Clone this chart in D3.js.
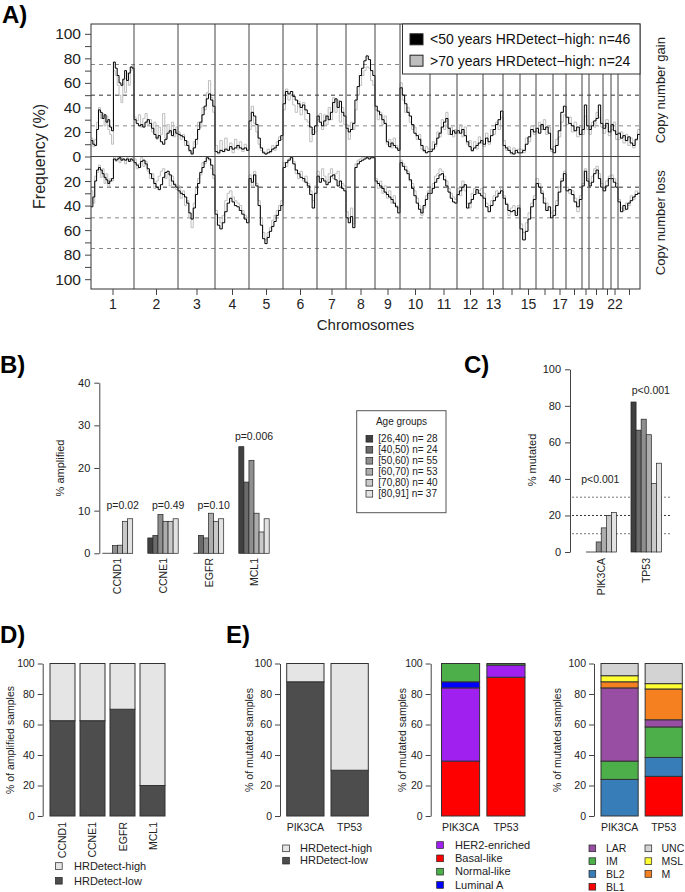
<!DOCTYPE html>
<html>
<head>
<meta charset="utf-8">
<script src="https://cdn.jsdelivr.net/npm/d3@7"></script>
<style>
  body { margin: 0; background: #fff; }
  svg { display: block; font-family: "Liberation Sans", Arial, Helvetica, sans-serif; }
</style>
</head>
<body>
<svg id="fig" width="685" height="892"></svg>
<script>
// Data
// ----

// Panel A: copy number frequency (%) along the genome, one array per chromosome
const chromNames = ["1","2","3","4","5","6","7","8","9","10","11","12","13","14","15","16","17","18","19","20","21","22","X"];
const chromWidth = [43,44,37,34,34,34,29,29,25,30,27,26,20,17,16,17,13,16,7,14,8,7,22];
const chromLabelShown = ["1","2","3","4","5","6","7","8","9","10","11","12","13","15","17","19","22"];

const gainYoung = [
  [13,10,9,22,38,36,31,34,28,30,24,21,77,72,66,60,58,63,70,62,68,73,72],
  [30,27,25,26,24,28,30,27,23,18,15,17,12,10,14,19,21,17,22,19],
  [18,17,16,13,9,5,2,7,14,22,28,34,41,47,51,46,41],
  [4,3,5,4,6,5,8,6,7,9,7,6,7,5],
  [29,36,33,26,15,7,3,2,3,4,6,7,9,13,17],
  [43,53,51,53,49,46,43,40,42,38,35,24,18,25],
  [33,28,25,29,33,30,36,44,47,40,45,36,33],
  [23,20,22,27,46,57,66,72,78,82,79,70,66],
  [41,37,34,30,27,12,8,11,9,7,5],
  [56,50,43,36,33,26,19,17,14,9,5,3,4],
  [4,6,10,15,19,24,28,31,23,18,21,19],
  [21,19,22,17,12,8,5,7,9,11,13],
  [10,15,12,17,22,26,30,37],
  [9,7,5,3,2,5,3],
  [3,5,10,16,22,20],
  [23,19,26,22,24,19,6],
  [3,9,21,36,41],
  [32,27,25,21,24,18],
  [22,42,25],
  [22,25,29,31,42,27],
  [23,27,20],
  [26,21,18],
  [19,15,17,13,16,11,9,14,18]
];
const gainOld = [
  [15,8,14,28,40,31,35,25,33,22,18,10,70,66,58,50,44,62,52,68,58,70,74],
  [32,29,34,24,31,35,26,30,20,28,14,24,18,35,15,26,20,28,16,24],
  [20,14,18,9,12,4,3,12,10,28,24,40,38,52,62,48,36],
  [9,2,13,4,15,6,11,3,14,6,12,4,10,6],
  [22,41,27,20,10,5,4,2,6,3,9,5,12,16,14],
  [38,55,46,50,42,36,45,34,44,30,28,12,22,20],
  [30,35,22,34,26,40,30,48,36,46,28,40,26],
  [26,14,28,22,38,50,58,66,70,73,72,62,58],
  [38,30,36,26,33,10,14,7,15,9,6],
  [60,46,36,40,28,22,24,14,18,6,4,8,6],
  [6,12,8,20,16,30,22,36,18,24,16,22],
  [19,26,16,24,10,13,4,12,6,16,11],
  [8,19,10,22,18,28,22,32],
  [13,5,8,2,7,3,6],
  [6,3,15,12,25,18],
  [20,28,22,30,18,24,4],
  [8,14,16,28,34],
  [26,32,20,28,16,24],
  [18,33,22],
  [18,28,24,36,32,24],
  [19,30,17],
  [22,28,14],
  [14,20,11,18,9,15,7,13,22]
];
const lossYoung = [
  [41,33,20,11,9,11,14,17,19,22,20,18,2,3,2,1,3,2,3,2,4,2,3],
  [5,7,9,4,3,6,10,14,18,22,25,27,23,17,13,12,15,20,23,25],
  [28,30,31,33,38,46,51,42,31,22,13,9,4,1,2,7,15],
  [47,56,59,54,45,38,34,37,40,41,44,47,51,54],
  [18,21,15,24,40,56,67,71,66,61,57,53,48,44,40],
  [9,5,3,1,6,11,14,17,18,21,24,31,42,30],
  [16,21,18,20,23,21,16,15,19,24,20,26,28],
  [50,54,49,58,9,6,4,3,2,1,2,1,1],
  [20,22,24,26,29,31,33,35,38,41,46],
  [5,8,11,14,19,26,32,38,43,46,40,35,30],
  [30,26,21,18,15,14,19,24,29,34,37,38],
  [31,28,25,23,42,38,35,31,27,30,32],
  [34,41,45,40,36,33,30,28],
  [34,39,44,45,44,48,42],
  [59,68,61,51,41,35],
  [22,25,30,38,44,41,50],
  [48,40,29,20,14],
  [28,27,31,37,41,35],
  [24,12,20],
  [24,21,14,11,18,25],
  [28,24,18],
  [18,21,25],
  [37,45,40,43,38,36,33,31,30]
];
const lossOld = [
  [28,38,16,13,7,17,10,22,14,25,18,20,0,4,1,5,0,3,6,1,2,4,1],
  [2,10,6,1,8,4,12,18,14,26,20,16,12,10,18,14,24,16,22,27],
  [24,34,28,40,36,50,58,38,26,18,15,5,6,0,3,10,18],
  [44,50,54,48,36,30,28,33,36,38,40,44,48,50],
  [15,24,12,22,36,50,62,68,62,58,52,48,44,40,36],
  [5,8,2,0,4,14,18,12,20,16,22,28,36,24],
  [12,18,10,16,20,14,10,18,14,12,20,22,24],
  [45,50,42,55,6,3,2,1,1,0,1,0,1],
  [18,26,20,30,24,34,28,38,32,40,42],
  [3,6,8,12,20,22,28,34,40,48,42,32,28],
  [28,22,16,14,10,12,16,20,26,30,33,35],
  [26,32,20,28,38,42,30,26,30,28,26],
  [30,38,40,36,32,28,30,25],
  [32,38,48,42,40,46,40],
  [55,62,54,46,38,32],
  [18,22,28,34,38,44,46],
  [44,36,25,18,12],
  [25,30,28,34,45,32],
  [22,10,18],
  [22,16,10,8,14,22],
  [26,20,16],
  [15,18,22],
  [35,42,44,38,40,32,35,28,30]
];
const legendA = ["<50 years HRDetect\u2212high: n=46", ">70 years HRDetect\u2212high: n=24"];

// Panel B: % amplified by age group
const ampGenes = ["CCND1", "CCNE1", "EGFR", "MCL1"];
const ageGroups = ["[26,40)", "[40,50)", "[50,60)", "[60,70)", "[70,80)", "[80,91]"];
const ageN = [28, 24, 55, 53, 40, 37];
const ampPct = [
  [0, 0, 1.8, 1.9, 7.5, 8.1],
  [3.6, 4.2, 9.1, 7.5, 7.5, 8.1],
  [0, 4.2, 3.6, 9.4, 7.5, 8.1],
  [25, 16.7, 21.8, 9.4, 5, 8.1]
];
const ampP = ["p=0.02", "p=0.49", "p=0.10", "p=0.006"];

// Panel C: % mutated by age group
const mutGenes = ["PIK3CA", "TP53"];
const mutPct = [
  [0, 0, 5.5, 13.2, 20, 21.6],
  [82.1, 66.7, 72.7, 64.2, 37.5, 48.6]
];
const mutP = ["p<0.001", "p<0.001"];
const mutRefLines = [10, 20, 30];

// Panel D: HRDetect-low share of amplified samples
const hrdLowAmp = [62.5, 62.5, 70, 20];

// Panel E: mutated samples
const hrdLowMut = [88, 30];
const pam50Types = ["Basal-like", "HER2-enriched", "Luminal A", "Normal-like"];
const pam50PIK3CA = [36, 48, 4, 12];
const pam50TP53 = [91, 8, 0, 1];
const pam50Legend = ["HER2-enriched", "Basal-like", "Normal-like", "Luminal A"];
const tnbcTypes = ["BL1", "BL2", "IM", "LAR", "M", "MSL", "UNC"];
const tnbcPIK3CA = [0, 24, 12, 48, 4, 4, 8];
const tnbcTP53 = [26, 12.4, 20, 4.7, 20.2, 3.5, 13.2];
const tnbcLegendCols = [["LAR", "IM", "BL2", "BL1"], ["UNC", "MSL", "M"]];

const ageColors = ["#404040", "#6b6b6b", "#8f8f8f", "#adadad", "#c9c9c9", "#e2e2e2"];
const hrdColors = { high: "#e5e5e5", low: "#4d4d4d" };
const pam50Colors = { "Basal-like": "#ff0000", "HER2-enriched": "#a020f0", "Luminal A": "#0000ff", "Normal-like": "#4daf4a" };
const tnbcColors = { BL1: "#ff0000", BL2: "#377eb8", IM: "#4daf4a", LAR: "#984ea3", M: "#f58020", MSL: "#ffff33", UNC: "#d3d3d3" };


// Helpers
// -------

const svg = d3.select("#fig");
svg.append("rect").attr("width", 685).attr("height", 892).attr("fill", "#fff");

function styleAxis(g, fs) {
  g.attr("font-family", null).attr("font-size", null);
  g.selectAll("text").attr("font-size", fs).attr("fill", "#222");
  g.selectAll("line, path").attr("stroke", "#444");
}

function vText(x, y, txt, fs, anchor) {
  return svg.append("text")
    .attr("transform", `translate(${x},${y}) rotate(-90)`)
    .attr("text-anchor", anchor || "middle")
    .attr("dominant-baseline", "central")
    .attr("font-size", fs)
    .attr("fill", "#222")
    .text(txt);
}

function panelLabel(txt, x, y) {
  svg.append("text").attr("x", x).attr("y", y)
    .attr("font-size", 24).attr("font-weight", "bold").text(txt);
}

// grouped bars; zero values still show as a flat line like R's barplot
function groupedBars(g, vals, x0, sub, y, colors) {
  vals.forEach((d, i) => {
    const bx = x0 + sub(ageGroups[i]);
    if (d > 0) {
      g.append("rect").attr("x", bx).attr("y", y(d))
        .attr("width", sub.bandwidth()).attr("height", y(0) - y(d))
        .attr("fill", colors[i]).attr("stroke", "#222").attr("stroke-width", 0.7);
    } else {
      g.append("line").attr("x1", bx).attr("x2", bx + sub.bandwidth())
        .attr("y1", y(0)).attr("y2", y(0)).attr("stroke", "#222").attr("stroke-width", 0.8);
    }
  });
}

panelLabel("A)", 2, 23);
panelLabel("B)", 0, 373);
panelLabel("C)", 464, 373);
panelLabel("D)", 0, 643);
panelLabel("E)", 226, 643);


// Panel A
// -------

const A = { left: 91, right: 640, top: 24, bottom: 289, zero: 156.5 };
const genomeStart = [];
let acc = 0;
chromWidth.forEach(w => { genomeStart.push(acc); acc += w; });
const genomeTotal = acc;
const chromCenters = chromWidth.map((w, i) => genomeStart[i] + w / 2);

const xA = d3.scaleLinear().domain([0, genomeTotal]).range([A.left, A.right]);
const yGain = d3.scaleLinear().domain([0, 108]).range([A.zero, A.top]);
const yLoss = d3.scaleLinear().domain([0, 108]).range([A.zero, A.bottom]);

svg.append("clipPath").attr("id", "clipA").append("rect")
  .attr("x", A.left).attr("y", A.top).attr("width", A.right - A.left).attr("height", A.bottom - A.top);

const gA = svg.append("g");

// reference lines
[[yGain, [25, 50, 75], ["#8a8a8a", "#333", "#8a8a8a"]],
 [yLoss, [25, 50, 75], ["#333", "#8a8a8a", "#8a8a8a"]]].forEach(([y, vals, cols]) => {
  vals.forEach((v, i) => {
    gA.append("line")
      .attr("x1", A.left).attr("x2", A.right)
      .attr("y1", y(v)).attr("y2", y(v))
      .attr("stroke", cols[i]).attr("stroke-width", 1)
      .attr("stroke-dasharray", "4,4");
  });
});

function tracePoints(series) {
  const pts = [];
  series.forEach((vals, c) => {
    const step = chromWidth[c] / vals.length;
    vals.forEach((v, i) => pts.push([genomeStart[c] + i * step, v]));
  });
  const last = series[series.length - 1];
  pts.push([genomeTotal, last[last.length - 1]]);
  return pts;
}

const traces = gA.append("g").attr("clip-path", "url(#clipA)");
[[gainOld, yGain, "#bebebe", 1], [lossOld, yLoss, "#bebebe", 1],
 [gainYoung, yGain, "#000", 1], [lossYoung, yLoss, "#000", 1]].forEach(([s, y, col, w]) => {
  const line = d3.line().x(d => xA(d[0])).y(d => y(d[1])).curve(d3.curveStepAfter);
  traces.append("path").attr("d", line(tracePoints(s)))
    .attr("fill", "none").attr("stroke", col).attr("stroke-width", w);
});

// chromosome boundaries
gA.selectAll(".chrsep").data(genomeStart.slice(1)).join("line")
  .attr("x1", d => xA(d)).attr("x2", d => xA(d))
  .attr("y1", A.top).attr("y2", A.bottom)
  .attr("stroke", "#444").attr("stroke-width", 1);

gA.append("line").attr("x1", A.left).attr("x2", A.right)
  .attr("y1", A.zero).attr("y2", A.zero).attr("stroke", "#444");
gA.append("rect").attr("x", A.left).attr("y", A.top)
  .attr("width", A.right - A.left).attr("height", A.bottom - A.top)
  .attr("fill", "none").attr("stroke", "#333");

// axes
const fmt20 = d => (d % 20 === 0 ? d : "");
const axGain = gA.append("g").attr("transform", `translate(${A.left},0)`)
  .call(d3.axisLeft(yGain).tickValues(d3.range(0, 101, 10)).tickFormat(fmt20).tickSize(6).tickPadding(4));
const axLoss = gA.append("g").attr("transform", `translate(${A.left},0)`)
  .call(d3.axisLeft(yLoss).tickValues(d3.range(10, 101, 10)).tickFormat(fmt20).tickSize(6).tickPadding(4));
[axGain, axLoss].forEach(g => { g.select(".domain").remove(); styleAxis(g, 15.5); });

const axChr = gA.append("g").attr("transform", `translate(0,${A.bottom})`)
  .call(d3.axisBottom(xA).tickValues(chromCenters)
    .tickFormat((d, i) => chromLabelShown.includes(chromNames[i]) ? chromNames[i] : "")
    .tickSize(6).tickPadding(4));
axChr.select(".domain").remove();
styleAxis(axChr, 14);

svg.append("text").attr("x", (A.left + A.right) / 2).attr("y", 330)
  .attr("text-anchor", "middle").attr("font-size", 15).attr("fill", "#222").text("Chromosomes");
vText(39, A.zero, "Frequency (%)", 16);
vText(660, (A.top + A.zero) / 2, "Copy number gain", 13);
vText(660, (A.zero + A.bottom) / 2, "Copy number loss", 13);

// legend
const legA = svg.append("g");
legA.append("rect").attr("x", 402.5).attr("y", A.top).attr("width", A.right - 402.5).attr("height", 50)
  .attr("fill", "#fff").attr("stroke", "#333");
legendA.forEach((t, i) => {
  const cy = 39.3 + i * 21.4;
  legA.append("rect").attr("x", 410).attr("y", cy - 5.5).attr("width", 13).attr("height", 11)
    .attr("fill", i === 0 ? "#000" : "#bebebe").attr("stroke", "#222");
  legA.append("text").attr("x", 430).attr("y", cy + 5).attr("font-size", 14).attr("fill", "#111").text(t);
});


// Panel B
// -------

const yB = d3.scaleLinear().domain([0, 40]).range([553.3, 382.7]);
const xB = d3.scaleBand().domain(ampGenes).range([102.3, 269.2]).paddingInner(0.332);
const xBsub = d3.scaleBand().domain(ageGroups).range([0, xB.bandwidth()]);

const gB = svg.append("g");
ampGenes.forEach((g, gi) => groupedBars(gB, ampPct[gi], xB(g), xBsub, yB, ageColors));
const pXfrac = [0.67, 0.67, 0.67, 0.5];
const pYval = [11.3, 11.3, 11.3, 27.5];
ampP.forEach((t, i) => {
  gB.append("text").attr("x", xB(ampGenes[i]) + xB.bandwidth() * pXfrac[i]).attr("y", yB(pYval[i]) + 3.5)
    .attr("text-anchor", "middle").attr("font-size", 10.5).attr("fill", "#222").text(t);
});
const axB = gB.append("g").attr("transform", "translate(99.3,0)")
  .call(d3.axisLeft(yB).tickValues([0, 10, 20, 30, 40]).tickSize(5).tickSizeOuter(0).tickPadding(4));
styleAxis(axB, 11);
ampGenes.forEach(g => vText(xB(g) + xB.bandwidth() / 2, 558, g, 10.5, "end"));
vText(60, 468, "% amplified", 11);

// age legend
const legB = svg.append("g");
legB.append("rect").attr("x", 356.7).attr("y", 410.7).attr("width", 89.3).attr("height", 102)
  .attr("fill", "#fff").attr("stroke", "#555");
legB.append("text").attr("x", 401.5).attr("y", 425).attr("text-anchor", "middle")
  .attr("font-size", 10).attr("fill", "#222").text("Age groups");
ageGroups.forEach((a, i) => {
  const cy = 438.7 + i * 11;
  legB.append("rect").attr("x", 366).attr("y", cy - 3.3).attr("width", 6.7).attr("height", 6.7)
    .attr("fill", ageColors[i]).attr("stroke", "#222").attr("stroke-width", 0.7);
  legB.append("text").attr("x", 378.3).attr("y", cy + 3.6).attr("font-size", 10).attr("fill", "#222")
    .text(`${a} n= ${ageN[i]}`);
});


// Panel C
// -------

const yC = d3.scaleLinear().domain([0, 100]).range([552, 369.3]);
const xC = d3.scaleBand().domain(mutGenes).range([586, 661.5]).paddingInner(0.322);
const xCsub = d3.scaleBand().domain(ageGroups).range([0, xC.bandwidth()]);
const gC = svg.append("g");
mutRefLines.forEach(v => {
  gC.append("line").attr("x1", 572).attr("x2", 672).attr("y1", yC(v)).attr("y2", yC(v))
    .attr("stroke", v === 20 ? "#333" : "#777").attr("stroke-dasharray", "2,2");
});
mutGenes.forEach((g, gi) => groupedBars(gC, mutPct[gi], xC(g), xCsub, yC, ageColors));
const pCXfrac = [0.47, 0.65];
const pCYval = [39.8, 88.3];
mutP.forEach((t, i) => {
  gC.append("text").attr("x", xC(mutGenes[i]) + xC.bandwidth() * pCXfrac[i]).attr("y", yC(pCYval[i]) + 3.5)
    .attr("text-anchor", "middle").attr("font-size", 10.5).attr("fill", "#222").text(t);
});
const axC = gC.append("g").attr("transform", "translate(570,0)")
  .call(d3.axisLeft(yC).tickValues([0, 20, 40, 60, 80, 100]).tickSize(5).tickSizeOuter(0).tickPadding(4));
styleAxis(axC, 11);
mutGenes.forEach(g => vText(xC(g) + xC.bandwidth() / 2, 558, g, 10.5, "end"));
vText(531.7, 460, "% mutated", 11);


// Panels D and E (stacked 100% bars)
// ----------------------------------

const yD = d3.scaleLinear().domain([0, 100]).range([816, 663.5]);

function stackPanel(axisX, range, pad, cats, keys, rows, colors) {
  const x = d3.scaleBand().domain(cats).range(range).paddingInner(pad);
  const table = cats.map((c, i) => {
    const o = { cat: c };
    keys.forEach((k, j) => { o[k] = rows[i][j]; });
    return o;
  });
  const series = d3.stack().keys(keys)(table);
  const g = svg.append("g");
  series.forEach(s => {
    g.selectAll(null).data(s.filter(d => d[1] > d[0])).join("rect")
      .attr("x", d => x(d.data.cat))
      .attr("y", d => yD(d[1]))
      .attr("width", x.bandwidth())
      .attr("height", d => yD(d[0]) - yD(d[1]))
      .attr("fill", colors[s.key])
      .attr("stroke", "#333").attr("stroke-width", 1);
  });
  const ax = g.append("g").attr("transform", `translate(${axisX},0)`)
    .call(d3.axisLeft(yD).tickValues([0, 20, 40, 60, 80, 100]).tickSize(5).tickSizeOuter(0).tickPadding(3));
  styleAxis(ax, 10.5);
  return x;
}

function legendRows(items, colors, sqX, txtX, y0, dy, fs) {
  items.forEach((it, i) => {
    const cy = y0 + i * dy;
    svg.append("rect").attr("x", sqX).attr("y", cy - 3.3).attr("width", 6.7).attr("height", 6.7)
      .attr("fill", colors[it]).attr("stroke", "#222").attr("stroke-width", 0.7);
    svg.append("text").attr("x", txtX).attr("y", cy + 3.8).attr("font-size", fs).attr("fill", "#222").text(it);
  });
}

const hrdKeys = ["low", "high"];
const hrdLegColors = { "HRDetect-high": hrdColors.high, "HRDetect-low": hrdColors.low };

// D
const xD = stackPanel(42.7, [50, 165], 0.1667, ampGenes, hrdKeys,
  hrdLowAmp.map(v => [v, 100 - v]), hrdColors);
ampGenes.forEach(g => vText(xD(g) + xD.bandwidth() / 2, 822, g, 10.5, "end"));
vText(10, 740, "% of amplified samples", 10.5);
legendRows(["HRDetect-high", "HRDetect-low"], hrdLegColors, 55.5, 74, 866, 14.7, 11);

// E1
const xE1 = stackPanel(280, [286.7, 368.3], 0.158, mutGenes, hrdKeys,
  hrdLowMut.map(v => [v, 100 - v]), hrdColors);
// E2
const xE2 = stackPanel(430.7, [441.5, 525], 0.16, mutGenes, pam50Types,
  [pam50PIK3CA, pam50TP53], pam50Colors);
// E3
const xE3 = stackPanel(594, [601, 682.3], 0.158, mutGenes, tnbcTypes,
  [tnbcPIK3CA, tnbcTP53], tnbcColors);

[xE1, xE2, xE3].forEach(x => {
  mutGenes.forEach(g => {
    svg.append("text").attr("x", x(g) + x.bandwidth() / 2).attr("y", 831)
      .attr("text-anchor", "middle").attr("font-size", 10.5).attr("fill", "#222").text(g);
  });
});
[249, 401.7, 556.7].forEach(xx => vText(xx, 740, "% of mutated samples", 10.5));

legendRows(["HRDetect-high", "HRDetect-low"], hrdLegColors, 282.7, 300, 848.3, 12.3, 11);
legendRows(pam50Legend, pam50Colors, 436.7, 455, 845, 13.3, 11);
legendRows(tnbcLegendCols[0], tnbcColors, 589, 606, 848.3, 12.8, 10.5);
legendRows(tnbcLegendCols[1], tnbcColors, 645, 661.5, 848.3, 12.8, 10.5);
</script>
</body>
</html>
